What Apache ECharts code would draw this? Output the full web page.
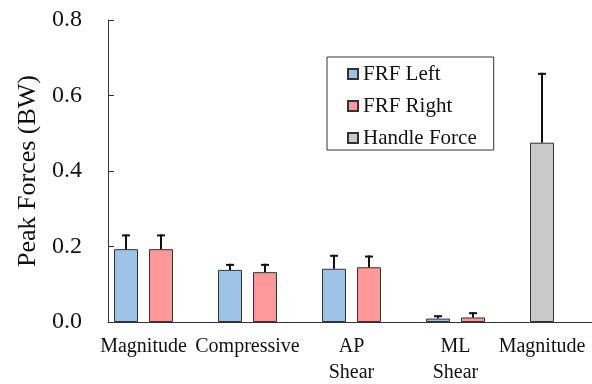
<!DOCTYPE html>
<html>
<head>
<meta charset="utf-8">
<script src="https://cdn.jsdelivr.net/npm/echarts@6/dist/echarts.min.js"></script>
<style>html,body{margin:0;padding:0;background:#fff;}#c{width:592px;height:384px;}</style>
</head>
<body>
<div id="c"></div>
<script>
// ---- data ----
const categories = ['Magnitude', 'Compressive', 'AP\nShear', 'ML\nShear', 'Magnitude'];
const frfLeft      = [0.193, 0.138, 0.141, 0.009, '-'];
const frfLeftErr   = [0.039, 0.016, 0.037, 0.009, '-'];
const frfRight     = [0.193, 0.132, 0.145, 0.012, '-'];
const frfRightErr  = [0.039, 0.022, 0.031, 0.014, '-'];
const handleForce    = ['-', '-', '-', '-', 0.475];
const handleForceErr = ['-', '-', '-', '-', 0.185];
const yTicks = [0, 0.2, 0.4, 0.6, 0.8];

// ---- style ----
const FONT = '"Liberation Serif", "Times New Roman", serif';
const BAR_W = 24, BAR_GAP = 11;
const C_LEFT = '#9DC3E6', C_RIGHT = '#FF9999', C_HANDLE = '#C9C9C9';
const BORDER = '#333';

function errData(vals, errs, slot) {
  const out = [];
  vals.forEach((v, i) => {
    if (v !== '-' && errs[i] !== '-') out.push([i, v, errs[i], slot]);
  });
  return out;
}
const errItems = []
  .concat(errData(frfLeft, frfLeftErr, 0))
  .concat(errData(frfRight, frfRightErr, 1))
  .concat(errData(handleForce, handleForceErr, 0));

const labelRich = {
  std: {fontFamily: FONT, fontSize: 20, lineHeight: 26, color: '#111'},
  last: {fontFamily: FONT, fontSize: 20, lineHeight: 26, color: '#111', padding: [0, BAR_W + BAR_GAP, 0, 0]}
};

const chart = echarts.init(document.getElementById('c'), null, {renderer: 'canvas'});
chart.setOption({
  animation: false,
  backgroundColor: '#fff',
  textStyle: {fontFamily: FONT},
  grid: [
    {left: 91.5, width: 520, top: 20, height: 302, outerBoundsMode: 'none', containLabel: false},
    {left: 108, right: 0, top: 20, height: 302, outerBoundsMode: 'none', containLabel: false}
  ],
  legend: {
    orient: 'vertical',
    left: 327, top: 57,
    data: ['FRF Left', 'FRF Right', 'Handle Force'],
    icon: 'rect',
    itemWidth: 10, itemHeight: 10,
    itemGap: 10,
    padding: [6, 17, 1, 20],
    borderColor: '#333', borderWidth: 1,
    formatter: name => '{t|' + name + '}',
    textStyle: {
      fontFamily: FONT, fontSize: 21, color: '#111', lineHeight: 22,
      rich: {t: {fontFamily: FONT, fontSize: 21, color: '#111', lineHeight: 22}}
    },
    selectedMode: false
  },
  xAxis: [
    {
      type: 'category', gridIndex: 0, data: categories,
      axisLine: {show: false}, axisTick: {show: false},
      axisLabel: {
        interval: 0, fontFamily: FONT, fontSize: 20, lineHeight: 26, margin: 12, color: '#111', hideOverlap: false,
        formatter: function (v, i) {
          return v.split('\n').map(s => '{' + (i === categories.length - 1 ? 'last' : 'std') + '|' + s + '}').join('\n');
        },
        rich: labelRich
      },
      splitLine: {show: false}
    },
    {
      type: 'value', gridIndex: 1, min: 0, max: 1,
      axisLine: {show: true, lineStyle: {color: BORDER, width: 1}},
      axisTick: {show: false}, axisLabel: {show: false}, splitLine: {show: false}
    }
  ],
  yAxis: [
    {type: 'value', gridIndex: 0, min: yTicks[0], max: yTicks[yTicks.length - 1], show: false, splitLine: {show: false}},
    {
      type: 'value', gridIndex: 1, min: yTicks[0], max: yTicks[yTicks.length - 1], interval: 0.2,
      axisLine: {show: true, lineStyle: {color: BORDER, width: 1}},
      axisTick: {show: true, inside: true, length: 6, lineStyle: {color: BORDER}},
      axisLabel: {formatter: v => v.toFixed(1), fontFamily: FONT, fontSize: 24, margin: 26, color: '#111'},
      splitLine: {show: false},
      name: 'Peak Forces (BW)', nameLocation: 'middle', nameGap: 65,
      nameTextStyle: {fontFamily: FONT, fontSize: 26, color: '#111'}
    }
  ],
  series: [
    {
      name: 'FRF Left', type: 'bar', xAxisIndex: 0, yAxisIndex: 0, stack: 'slot0',
      data: frfLeft, barWidth: BAR_W, barGap: (BAR_GAP / BAR_W * 100) + '%',
      itemStyle: {color: C_LEFT, borderColor: BORDER, borderWidth: 1}
    },
    {
      name: 'FRF Right', type: 'bar', xAxisIndex: 0, yAxisIndex: 0,
      data: frfRight, barWidth: BAR_W, barGap: (BAR_GAP / BAR_W * 100) + '%',
      itemStyle: {color: C_RIGHT, borderColor: BORDER, borderWidth: 1}
    },
    {
      name: 'Handle Force', type: 'bar', xAxisIndex: 0, yAxisIndex: 0, stack: 'slot0',
      data: handleForce, barWidth: BAR_W, barGap: (BAR_GAP / BAR_W * 100) + '%',
      itemStyle: {color: C_HANDLE, borderColor: BORDER, borderWidth: 1}
    },
    {
      name: 'err', type: 'custom', xAxisIndex: 0, yAxisIndex: 0, z: 5,
      data: errItems,
      renderItem: function (params, api) {
        const i = api.value(0), v = api.value(1), e = api.value(2), slot = api.value(3);
        const base = api.coord([i, v]);
        const top = api.coord([i, v + e]);
        const x = base[0] + (slot - 0.5) * (BAR_W + BAR_GAP);
        const st = {stroke: '#111', lineWidth: 2};
        return {
          type: 'group',
          children: [
            {type: 'line', shape: {x1: x, y1: base[1], x2: x, y2: top[1]}, style: st},
            {type: 'line', shape: {x1: x - 4, y1: top[1] + 1, x2: x + 4, y2: top[1] + 1}, style: st}
          ]
        };
      }
    }
  ]
});
</script>
</body>
</html>
